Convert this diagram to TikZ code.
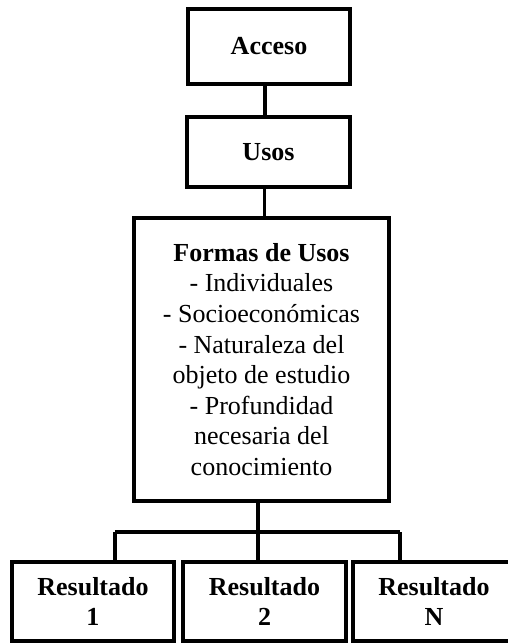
\documentclass[tikz,border=0pt]{standalone}
\usepackage{fontspec}
\setmainfont{Liberation Serif}
\begin{document}
\begin{tikzpicture}[x=0.5pt, y=-0.5pt, line width=1.75pt,
  caja/.style={draw, line width=1.75pt, align=center, inner sep=0pt,
    font=\fontsize{13}{15.3}\selectfont}]
\useasboundingbox (0,0) rectangle (508,643);
\node[caja, minimum width=81pt, minimum height=37.5pt] (acceso) at (269,46.5){\textbf{Acceso}};
\node[caja, minimum width=81.5pt, minimum height=35pt] (usos) at (268.5,152){\textbf{Usos}};
\node[caja, minimum width=127.5pt, minimum height=141.5pt] (formas) at (261.5,359.5){\textbf{Formas de Usos}\\- Individuales\\- Socioeconómicas\\- Naturaleza del\\objeto de estudio\\- Profundidad\\necesaria del\\conocimiento};
\node[caja, minimum width=81pt, minimum height=39.5pt] (res1) at (93,601.5){\textbf{Resultado}\\\textbf{1}};
\node[caja, minimum width=81.5pt, minimum height=39.5pt] (res2) at (264.5,601.5){\textbf{Resultado}\\\textbf{2}};
\node[caja, minimum width=81pt, minimum height=39.5pt] (res3) at (434,601.5){\textbf{Resultado}\\\textbf{N}};
\draw ([xshift=-2pt]acceso.south) -- ([xshift=-2pt]acceso.south |- usos.north);
\draw ([xshift=-2pt]usos.south) -- ([xshift=-2pt]usos.south |- formas.north);
\coordinate (bus) at (258,532);
\coordinate (b1) at (115,532);
\coordinate (b3) at (400,532);
\draw (bus |- formas.south) -- (bus);
\draw (b1) -- (b3);
\draw (b1) -- (b1 |- res1.north);
\draw (bus) -- (bus |- res2.north);
\draw (b3) -- (b3 |- res3.north);
\end{tikzpicture}
\end{document}
